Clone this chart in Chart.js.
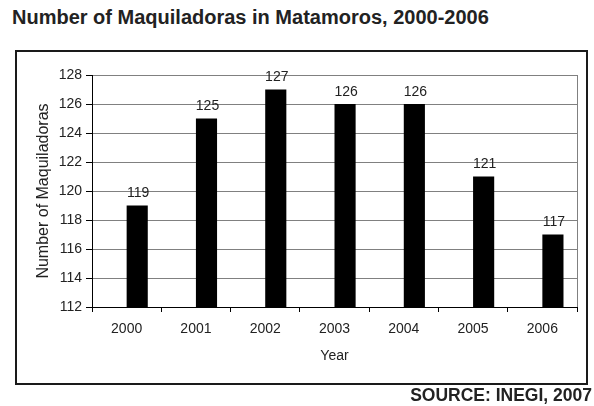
<!DOCTYPE html>
<html>
<head>
<meta charset="utf-8">
<script src="https://cdn.jsdelivr.net/npm/chart.js@4"></script>
<style>
    body { margin: 0; background: #fff; font-family: "Liberation Sans", Arial, sans-serif; color: #222; }
    #wrap { position: relative; width: 594px; height: 406px; overflow: hidden; }
    #title { position: absolute; left: 12px; top: 6px; font-size: 20px; font-weight: bold; white-space: nowrap; }
    #frame { position: absolute; left: 15px; top: 50px; width: 569px; height: 331px; border: 2px solid #1a1a1a; }
    #source { position: absolute; right: 2px; top: 385px; font-size: 17.5px; font-weight: bold; white-space: nowrap; }
    #chart { position: absolute; left: 0; top: 0; }
</style>
</head>
<body>
<div id="wrap">
    <div id="title">Number of Maquiladoras in Matamoros, 2000-2006</div>
    <div id="frame"></div>
    <canvas id="chart" width="594" height="406"></canvas>
    <div id="source">SOURCE: INEGI, 2007</div>
</div>
<script>
// Maquiladora counts per year
const years = ['2000', '2001', '2002', '2003', '2004', '2005', '2006'];
const plants = [119, 125, 127, 126, 126, 121, 117];
const yTicks = [112, 114, 116, 118, 120, 122, 124, 126, 128];

const textColor = '#222';
const gridColor = '#808080';
const fontFamily = '"Liberation Sans", Arial, sans-serif';

// Writes the count over each bar
const valueLabels = {
    id: 'valueLabels',
    afterDatasetsDraw(chart) {
        const ctx = chart.ctx;
        const meta = chart.getDatasetMeta(1);
        ctx.save();
        ctx.font = '14px ' + fontFamily;
        ctx.fillStyle = textColor;
        ctx.textAlign = 'center';
        ctx.textBaseline = 'bottom';
        meta.data.forEach((bar, i) => {
            ctx.fillText(String(plants[i]), bar.x + 1, bar.y - 5);
        });
        ctx.restore();
    }
};

// Gray line along the right side of the plot area
const plotEdge = {
    id: 'plotEdge',
    beforeDatasetsDraw(chart) {
        const {ctx, chartArea} = chart;
        ctx.save();
        ctx.strokeStyle = gridColor;
        ctx.lineWidth = 1;
        ctx.beginPath();
        ctx.moveTo(chartArea.right + 0.5, chartArea.top);
        ctx.lineTo(chartArea.right + 0.5, chartArea.bottom);
        ctx.stroke();
        ctx.restore();
    }
};

new Chart(document.getElementById('chart').getContext('2d'), {
    type: 'bar',
    data: {
        labels: years,
        datasets: [
            // empty slot so the bars sit just right of each category centre
            { label: '', data: years.map(() => null), backgroundColor: 'rgba(0,0,0,0)' },
            { label: 'Number of Maquiladoras', data: plants, backgroundColor: '#000', borderWidth: 0 }
        ]
    },
    options: {
        responsive: false,
        animation: false,
        events: [],
        categoryPercentage: 0.61,
        barPercentage: 1.0,
        layout: { padding: { left: 30, right: 17, top: 75, bottom: 37 } },
        plugins: {
            legend: { display: false },
            tooltip: { enabled: false }
        },
        scales: {
            x: {
                afterFit: (scale) => { scale.height = 62; },
                border: { color: '#000', width: 1 },
                grid: { offset: true, drawOnChartArea: false, tickLength: 5, color: '#000' },
                ticks: { color: textColor, font: { size: 14, family: fontFamily }, padding: 9 },
                title: { display: true, text: 'Year', color: textColor, font: { size: 14, family: fontFamily }, padding: { top: 4, bottom: 4 } }
            },
            y: {
                min: 112,
                max: 128,
                afterFit: (scale) => { scale.width = 62; },
                afterBuildTicks: (scale) => { scale.ticks = yTicks.map(v => ({ value: v })); },
                border: { color: '#000', width: 1 },
                grid: { color: gridColor, tickColor: '#000', tickLength: 6 },
                ticks: { color: textColor, font: { size: 14, family: fontFamily }, padding: 4 },
                title: { display: true, text: 'Number of Maquiladoras', color: textColor, font: { size: 16, family: fontFamily }, padding: { top: 4, bottom: 4 } }
            }
        }
    },
    plugins: [valueLabels, plotEdge]
});
</script>
</body>
</html>
